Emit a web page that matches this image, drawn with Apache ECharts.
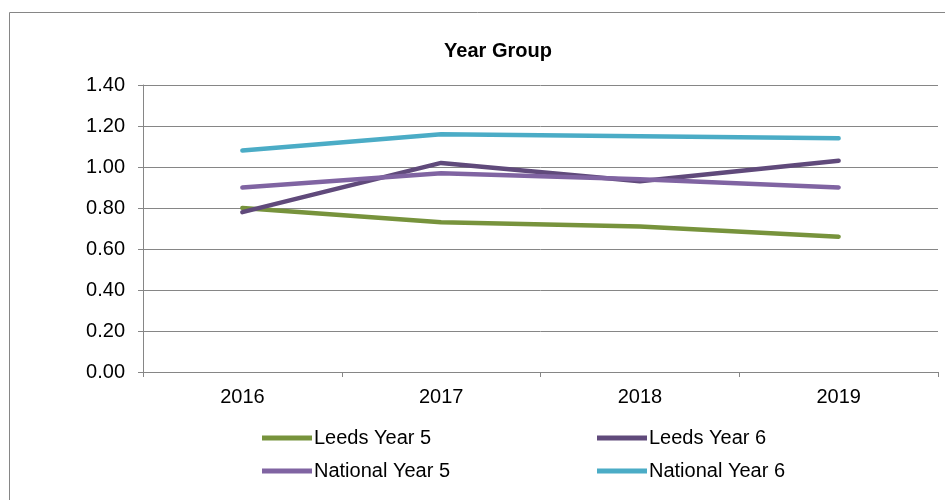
<!DOCTYPE html>
<html>
<head>
<meta charset="utf-8">
<script src="https://cdn.jsdelivr.net/npm/echarts@6/dist/echarts.min.js"></script>
<style>
  html, body { margin: 0; padding: 0; background: #fff; }
  #chart { width: 945px; height: 500px; }
</style>
</head>
<body>
<div id="chart"></div>
<script>
// 数据
var years = ['2016', '2017', '2018', '2019'];
var leedsY5 = [0.80, 0.73, 0.71, 0.66];
var leedsY6 = [0.78, 1.02, 0.93, 1.03];
var nationalY5 = [0.90, 0.97, 0.94, 0.90];
var nationalY6 = [1.08, 1.16, 1.15, 1.14];

var names = ['Leeds Year 5', 'Leeds Year 6', 'National Year 5', 'National Year 6'];
var colors = ['#77933C', '#604A7B', '#8064A2', '#4BACC6'];
var seriesData = [leedsY5, leedsY6, nationalY5, nationalY6];

var font = 'Liberation Sans, Arial, sans-serif';

// 图例位置 (2 x 2)
var legendPos = [
  { left: 257, top: 423 },
  { left: 592, top: 423 },
  { left: 257, top: 456 },
  { left: 592, top: 456 }
];

var myChart = echarts.init(document.getElementById('chart'));
var option = {
  animation: false,
  backgroundColor: '#fff',
  graphic: [{
    type: 'rect',
    shape: { x: 9.5, y: 12.5, width: 1000, height: 600 },
    style: { fill: 'none', stroke: '#868686', lineWidth: 1 },
    silent: true
  }],
  title: {
    text: 'Year Group',
    left: 493,
    textAlign: 'center',
    top: 36,
    textStyle: { fontFamily: font, fontSize: 20, fontWeight: 'bold', color: '#000' }
  },
  legend: legendPos.map(function (p, i) {
    return {
      left: p.left,
      top: p.top,
      data: [names[i]],
      icon: 'rect',
      itemWidth: 50,
      itemHeight: 5,
      textStyle: { fontFamily: font, fontSize: 20, color: '#000', padding: [0, 0, 0, -3] },
      selectedMode: false
    };
  }),
  grid: { left: 143, right: 7, top: 85, bottom: 128 },
  xAxis: {
    type: 'category',
    data: years,
    boundaryGap: true,
    axisLine: { lineStyle: { color: '#868686', width: 1 } },
    axisTick: { show: true, length: 5, lineStyle: { color: '#868686' } },
    axisLabel: { fontFamily: font, fontSize: 20, color: '#000', margin: 15 }
  },
  yAxis: {
    type: 'value',
    min: 0,
    max: 1.4,
    interval: 0.2,
    axisLine: { show: true, lineStyle: { color: '#868686', width: 1 } },
    axisTick: { show: true, length: 5, lineStyle: { color: '#868686' } },
    axisLabel: {
      fontFamily: font, fontSize: 20, color: '#000', margin: 18,
      formatter: function (v) { return v.toFixed(2); }
    },
    splitLine: { lineStyle: { color: '#868686', width: 1 } }
  },
  series: names.map(function (n, i) {
    return {
      name: n,
      type: 'line',
      data: seriesData[i],
      showSymbol: false,
      symbol: 'none',
      color: colors[i],
      lineStyle: { width: 4.5, color: colors[i], cap: 'round', join: 'round' }
    };
  })
};
myChart.setOption(option);
</script>
</body>
</html>
